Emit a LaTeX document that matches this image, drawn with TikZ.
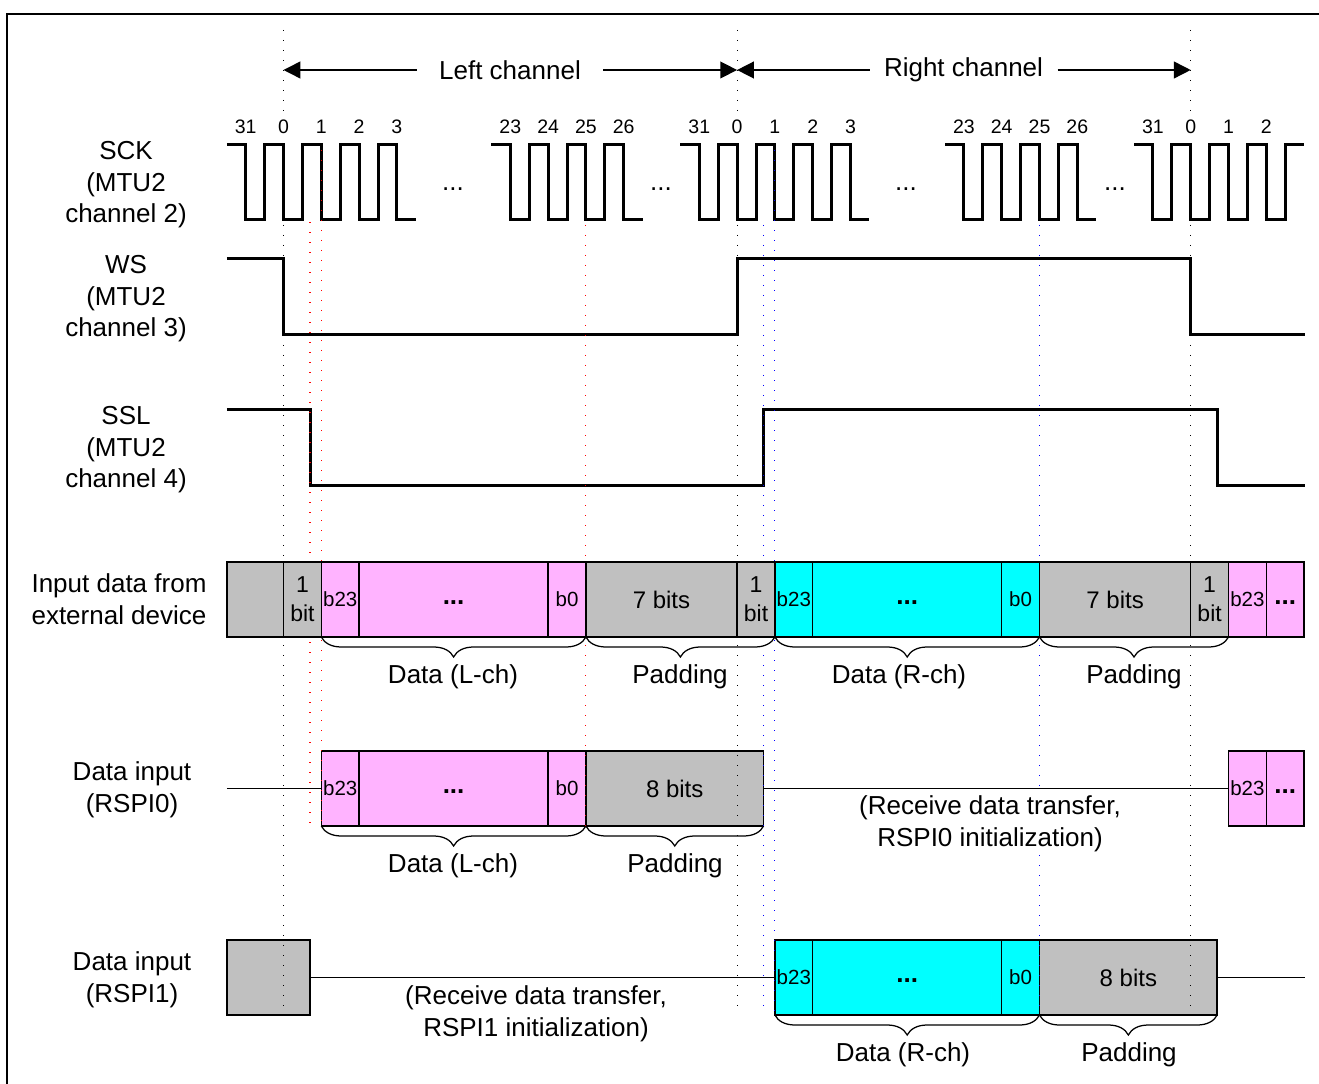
\documentclass[tikz,border=0pt]{standalone}
\usepackage{fontspec}
\setmainfont{Liberation Sans}
\usetikzlibrary{arrows.meta,decorations.pathreplacing}

\definecolor{chL}{RGB}{255,179,255}
\definecolor{chR}{RGB}{0,255,255}
\definecolor{pad}{RGB}{192,192,192}

\begin{document}
\begin{tikzpicture}[x=0.4pt,y=-0.4pt,>={Triangle[length=6.7pt,width=6.7pt]},
  font=\fontsize{10.4}{12.6}\selectfont,
  wave/.style={line width=1.2pt},
  bus/.style={line width=0.6pt},
  cell/.style={draw,line width=0.6pt,inner sep=0pt,outer sep=0pt,minimum height=30pt,align=center},
  guide/.style={line width=0.45pt,dash pattern=on 0.45pt off 3.55pt},
  brc/.style={decorate,decoration={brace,mirror,amplitude=8pt},line width=0.5pt},
  lbl/.style={align=center,inner sep=0pt},
  num/.style={font=\fontsize{7.8}{9}\selectfont,inner sep=0pt}]

  \useasboundingbox (0,0) rectangle (1319,1084);
  \draw[line width=0.8pt] (7,1084) -- (7,14) -- (1319,14);

  \foreach \xa/\xb/\c/\fs/\t [count=\k] in {321.3/359.1/chL/8.2/b23, 359.1/548.1/chL/10.4/{\textbf{...}\rule{0pt}{4pt}},
      548.1/585.9/chL/8.2/b0, 585.9/763.6/pad/9.6/8 bits, 1228.5/1266.3/chL/8.2/b23, 1266.3/1304.1/chL/10.4/{\textbf{...}\rule{0pt}{4pt}}}
    \node[cell,fill=\c,minimum width={(\xb-\xa)*0.4pt},font=\fontsize{\fs}{11.6}\selectfont] (rx0\k) at ({(\xa+\xb)/2},788.5) {\t};
  \coordinate (rx0in) at (226.8,788.5);
  \draw[bus] (rx0in) -- (rx01);
  \draw[bus] (rx04) -- (rx05);
  \draw[brc] (rx01.south west) -- (rx03.south east);
  \draw[brc] (rx04.south west) -- (rx04.south east);
  \node (rx0dat) at (453,866) {Data (L-ch)};
  \node (rx0pad) at (675,866) {Padding};

  \foreach \xa/\xb/\c/\fs/\t [count=\k] in {226.8/310/pad/8.2/{}, 774.9/812.7/chR/8.2/b23,
      812.7/1001.7/chR/10.4/{\textbf{...}\rule{0pt}{4pt}}, 1001.7/1039.5/chR/8.2/b0, 1039.5/1217.2/pad/9.6/8 bits}
    \node[cell,fill=\c,minimum width={(\xb-\xa)*0.4pt},font=\fontsize{\fs}{11.6}\selectfont] (rx1\k) at ({(\xa+\xb)/2},977.5) {\t};
  \coordinate (rx1out) at (1305,977.5);
  \draw[bus] (rx11) -- (rx12);
  \draw[bus] (rx15) -- (rx1out);
  \draw[brc] (rx12.south west) -- (rx14.south east);
  \draw[brc] (rx15.south west) -- (rx15.south east);
  \node (rx1dat) at (903,1055) {Data (R-ch)};
  \node (rx1pad) at (1129,1055) {Padding};

  \foreach \xs/\n in {226.8/5,491.4/4,680.4/5,945/4}
    \draw[wave] (\xs,145) \foreach \i in {2,...,\n}{ -- ++(18.9,0) -- ++(0,75) -- ++(18.9,0) -- ++(0,-75)}
      -- ++(18.9,0) -- ++(0,75) -- ++(18.9,0);
  \draw[wave] (1134,145) \foreach \i in {1,...,4}{ -- ++(18.9,0) -- ++(0,75) -- ++(18.9,0) -- ++(0,-75)} -- ++(18.9,0);
  \draw[wave] (226.8,259) -- (283.5,259) -- (283.5,335) -- (737.1,335) -- (737.1,259) -- (1190.7,259)
    -- (1190.7,335) -- (1305,335);
  \draw[wave] (226.8,410) -- (310,410) -- (310,486) -- (763.6,486) -- (763.6,410) -- (1217.2,410)
    -- (1217.2,486) -- (1305,486);

  \foreach \x in {283.5,737.1,1190.7}{
    \draw[guide] (\x,30) -- (\x,112);
    \draw[guide] (\x,145) -- (\x,1015);}
  \foreach \x/\ya/\yb/\c in {310/222/830/red, 321.3/150/830/red, 585.9/225/830/red,
      763.6/225/1015/blue, 774.9/150/1015/blue, 1039.5/225/1015/blue}
    \draw[guide,\c] (\x,\ya) -- (\x,\yb);

  \foreach \xa/\xb/\c/\fs/\t [count=\k] in {226.8/283.5/pad/8.2/{}, 283.5/321.3/pad/9.2/1\\bit,
      321.3/359.1/chL/8.2/b23, 359.1/548.1/chL/10.4/{\textbf{...}\rule{0pt}{4pt}}, 548.1/585.9/chL/8.2/b0,
      585.9/737.1/pad/9.6/7 bits, 737.1/774.9/pad/9.2/1\\bit, 774.9/812.7/chR/8.2/b23,
      812.7/1001.7/chR/10.4/{\textbf{...}\rule{0pt}{4pt}}, 1001.7/1039.5/chR/8.2/b0, 1039.5/1190.7/pad/9.6/7 bits,
      1190.7/1228.5/pad/9.2/1\\bit, 1228.5/1266.3/chL/8.2/b23, 1266.3/1304.1/chL/10.4/{\textbf{...}\rule{0pt}{4pt}}}
    \node[cell,fill=\c,minimum width={(\xb-\xa)*0.4pt},font=\fontsize{\fs}{11.6}\selectfont] (in\k) at ({(\xa+\xb)/2},599.5) {\t};
  \draw[brc] (in3.south west) -- (in5.south east);
  \draw[brc] (in6.south west) -- (in7.south east);
  \draw[brc] (in8.south west) -- (in10.south east);
  \draw[brc] (in11.south west) -- (in12.south east);
  \node (indatl) at (453,677) {Data (L-ch)};
  \node (inpadl) at (680,677) {Padding};
  \node (indatr) at (899,677) {Data (R-ch)};
  \node (inpadr) at (1134,677) {Padding};

  \foreach \x/\t [count=\k] in {245.7/31, 283.5/0, 321.3/1, 359.1/2, 396.9/3, 510.3/23, 548.1/24, 585.9/25,
      623.7/26, 699.3/31, 737.1/0, 774.9/1, 812.7/2, 850.5/3, 963.9/23, 1001.7/24, 1039.5/25, 1077.3/26,
      1152.9/31, 1190.7/0, 1228.5/1, 1266.3/2}
    \node[num] (clk\k) at (\x,127) {\t};
  \foreach \x [count=\k] in {453,661,906,1115}
    \node (gap\k) at (\x,189) {...};

  \coordinate (c0) at (283.5,70);
  \coordinate (c1) at (737.1,70);
  \coordinate (c2) at (1190.7,70);
  \node[inner xsep=8.8pt] (lch) at (510,70) {Left channel};
  \node[inner xsep=5.6pt] (rch) at (963.5,70) {Right channel};
  \draw[->,bus] (lch) -- (c0);
  \draw[->,bus] (lch) -- (c1);
  \draw[->,bus] (rch) -- (c1);
  \draw[->,bus] (rch) -- (c2);

  \node[lbl] (sck) at (126,185) {SCK\\(MTU2\\channel 2)};
  \node[lbl] (ws) at (126,299) {WS\\(MTU2\\channel 3)};
  \node[lbl] (ssl) at (126,450) {SSL\\(MTU2\\channel 4)};
  \node[lbl] (ext) at (119,599) {Input data from\\external device};
  \node[lbl] (rx0) at (132,790) {Data input\\(RSPI0)};
  \node[lbl] (rx1) at (132,980) {Data input\\(RSPI1)};
  \node[lbl,fill=white,inner sep=1pt] (rx0note) at (990,824) {(Receive data transfer,\\RSPI0 initialization)};
  \node[lbl] (rx1note) at (536,1014) {(Receive data transfer,\\RSPI1 initialization)};
\end{tikzpicture}
\end{document}
